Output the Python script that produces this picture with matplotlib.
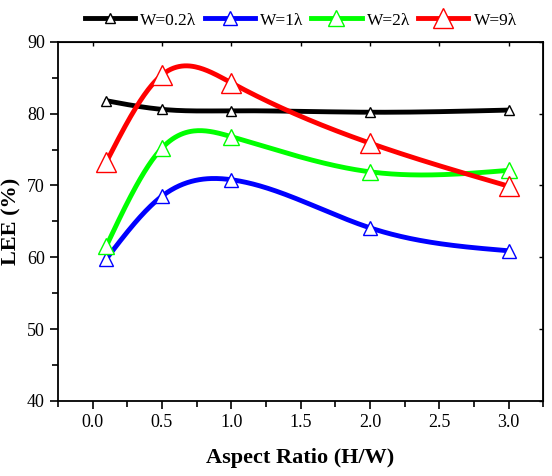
import numpy as np
import matplotlib
matplotlib.use("Agg")
import matplotlib.pyplot as plt
from matplotlib.ticker import MultipleLocator

plt.rcParams['font.family'] = ['Liberation Serif', 'DejaVu Serif']

aspect = [0.1, 0.5, 1.0, 2.0, 3.0]
lee_w02 = [81.8, 80.6, 80.4, 80.2, 80.5]
lee_w1 = [59.8, 68.5, 70.8, 64.1, 60.9]
lee_w2 = [61.6, 75.2, 76.8, 71.9, 72.1]
lee_w9 = [73.3, 85.4, 84.3, 75.9, 69.9]
labels = ['W=0.2λ', 'W=1λ', 'W=2λ', 'W=9λ']
colors = ['black', 'blue', '#00ff00', 'red']
msizes = [7, 10, 12, 15]


def natural_spline(x, y, n=300):
    # plain natural cubic spline, just for drawing the smooth line
    x = np.asarray(x, float)
    y = np.asarray(y, float)
    k = len(x)
    h = np.diff(x)
    A = np.zeros((k, k))
    b = np.zeros(k)
    A[0, 0] = A[-1, -1] = 1
    for i in range(1, k - 1):
        A[i, i - 1] = h[i - 1]
        A[i, i] = 2 * (h[i - 1] + h[i])
        A[i, i + 1] = h[i]
        b[i] = 3 * ((y[i + 1] - y[i]) / h[i] - (y[i] - y[i - 1]) / h[i - 1])
    c = np.linalg.solve(A, b)
    xs = np.linspace(x[0], x[-1], n)
    idx = np.clip(np.searchsorted(x, xs) - 1, 0, k - 2)
    dx = xs - x[idx]
    bb = (y[idx + 1] - y[idx]) / h[idx] - h[idx] * (2 * c[idx] + c[idx + 1]) / 3
    dd = (c[idx + 1] - c[idx]) / (3 * h[idx])
    ys = y[idx] + bb * dx + c[idx] * dx ** 2 + dd * dx ** 3
    return xs, ys


fig = plt.figure(figsize=(5.52, 4.76), dpi=100)
ax = fig.add_axes([0.105, 0.158, 0.879, 0.754])

handles = []
for ys, lab, col, ms in zip([lee_w02, lee_w1, lee_w2, lee_w9], labels, colors, msizes):
    sx, sy = natural_spline(aspect, ys)
    ax.plot(sx, sy, color=col, lw=3.5, solid_capstyle='round', zorder=2)
    ax.plot(aspect, ys, ls='none', marker='^', ms=ms, mfc='white', mec=col,
            mew=1.0, zorder=3)
    h, = ax.plot([], [], color=col, lw=3.5, marker='^', ms=ms, mfc='white',
                 mec=col, mew=1.0)
    handles.append(h)

ax.set_xlim(-0.25, 3.25)
ax.set_ylim(40, 90)
ax.xaxis.set_major_locator(MultipleLocator(0.5))
ax.xaxis.set_minor_locator(MultipleLocator(0.25))
ax.yaxis.set_major_locator(MultipleLocator(10))
ax.yaxis.set_minor_locator(MultipleLocator(5))
ax.xaxis.set_major_formatter(plt.FormatStrFormatter('%.1f'))
ax.tick_params(axis='both', which='major', direction='out', length=6, width=1.2,
               labelsize=13)
ax.tick_params(axis='both', which='minor', direction='out', length=4, width=1.2)
for sp in ax.spines.values():
    sp.set_linewidth(1.3)

# small inward ticks on top and right
axt = ax.secondary_xaxis('top')
axt.xaxis.set_major_locator(MultipleLocator(0.5))
axt.tick_params(direction='in', length=3, width=1.0)
axt.set_xticklabels([])
axr = ax.secondary_yaxis('right')
axr.yaxis.set_major_locator(MultipleLocator(10))
axr.tick_params(direction='in', length=3, width=1.0)
axr.set_yticklabels([])

ax.set_xlabel('Aspect Ratio (H/W)', fontsize=16, fontweight='bold', labelpad=12)
ax.set_ylabel('LEE (%)', fontsize=16, fontweight='bold', labelpad=4)

fig.legend(handles, labels, loc='center', bbox_to_anchor=(0.545, 0.957), ncol=4,
           frameon=False, fontsize=12.5, handlelength=2.9, handletextpad=0.3,
           columnspacing=0.45)

fig.savefig('out.png', dpi=100)
